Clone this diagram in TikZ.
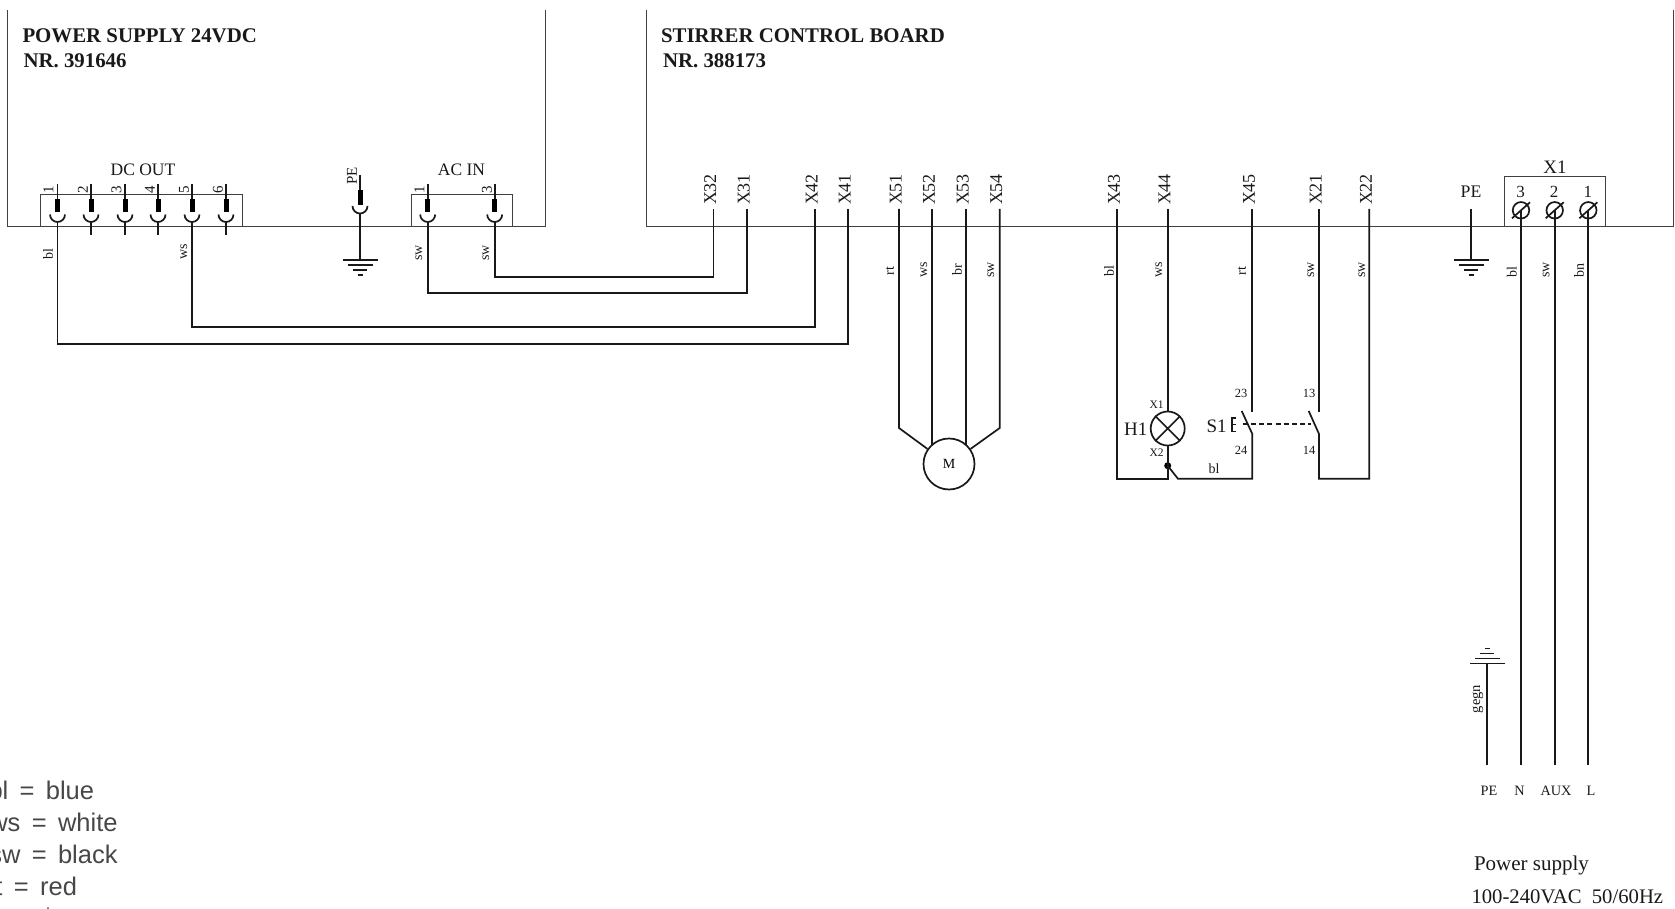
\documentclass[tikz,border=0pt]{standalone}
\usepackage{fontspec}
\setmainfont{Liberation Serif}
\newfontfamily\legendfont[WordSpace=1.6]{Liberation Sans}
\newcommand{\fs}[1]{\fontsize{#1pt}{#1pt}\selectfont}
\tikzset{
  wire/.style={line width=1.7pt,draw=black!90},
  frame/.style={line width=1pt,draw=black!75},
  txt/.style={inner sep=0pt,outer sep=0pt,text=black!90,yshift=-1pt},
  wl/.style={txt,rotate=90,font=\fs{14}},
  xl/.style={txt,rotate=90,font=\fs{18}},
  pn/.style={txt,rotate=90,font=\fs{15}},
  title/.style={txt,anchor=west,font=\fs{20.85}\bfseries},
  leg/.style={inner sep=0pt,outer sep=0pt,anchor=base west,text=black!72,font=\legendfont\fs{25.5}},
  tiny/.style={txt,font=\fs{12.5}},
  lampc/.style={circle,draw=black!90,line width=1.7pt,minimum size=34pt,inner sep=0pt},
  motorc/.style={circle,draw=black!90,line width=1.7pt,minimum size=51pt,inner sep=0pt,font=\fs{14}},
  termc/.style={circle,draw=black!90,line width=1.7pt,minimum size=16.5pt,inner sep=0pt},
}
% plug: name, x, free end y
\newcommand{\plug}[3]{%
  \coordinate (#1) at (#2,#3);
  \draw[wire] (#2,184) -- (#2,200);
  \fill[black] (#2-2.5,199) rectangle (#2+2.5,212.5);
  \draw[wire] (#2-7.5,214.5) arc[start angle=180,end angle=360,radius=7.5pt];
  \draw[wire] (#2,222) -- (#2,#3);
}
% earth: x, y, direction of the shorter bars (+1 down, -1 up)
\newcommand{\gnd}[3]{%
  \draw[wire] (#1-17.5,#2) -- (#1+17.5,#2);
  \draw[wire] (#1-12.5,#2+#3*5) -- (#1+12.5,#2+#3*5);
  \draw[wire] (#1-7,#2+#3*10) -- (#1+7,#2+#3*10);
  \draw[wire] (#1-2.5,#2+#3*15) -- (#1+2.5,#2+#3*15);
}
\begin{document}
\begin{tikzpicture}[x=1pt,y=-1pt]
\useasboundingbox (0,0) rectangle (1675,909);
\clip (0,0) rectangle (1675,909);
% frames
\draw[frame] (7,10) -- (7,226.5) -- (545,226.5) -- (545,10);
\draw[frame] (646,10) -- (646,226.5) -- (1673,226.5) -- (1673,10);
\draw[frame] (40,226.5) rectangle (242,194.5);
\draw[frame] (411,226.5) rectangle (512,194.5);
\draw[frame] (1504.3,226.5) rectangle (1605,176.5);
% titles
\node[title] (t1) at (22.5,35) {POWER SUPPLY 24VDC};
\node[title] (t2) at (23.5,60) {NR. 391646};
\node[title] (t3) at (661,35) {STIRRER CONTROL BOARD};
\node[title] (t4) at (663,60) {NR. 388173};
\node[txt,font=\fs{17.5}] (dc) at (143,169) {DC OUT};
\node[txt,font=\fs{17.5}] (ac) at (461.5,169) {AC IN};
% plugs DC OUT
\plug{p1}{57.5}{235}\plug{p2}{91}{235}\plug{p3}{125}{235}\plug{p4}{158}{235}\plug{p5}{192}{235}\plug{p6}{226}{235}
\node[pn] at (48.5,189) {1};
\node[pn] at (83,189) {2};
\node[pn] at (116.5,189) {3};
\node[pn] at (150,189) {4};
\node[pn] at (184,189) {5};
\node[pn] at (218,189) {6};
% AC plugs
\plug{a1}{427.7}{235}\plug{a3}{494.7}{235}
\node[pn] at (419.5,189) {1};
\node[pn] at (487,189) {3};
% PE plug
\draw[wire] (360,175) -- (360,191);
\fill[black] (357.5,190.5) rectangle (362.5,205);
\draw[wire] (352.5,206) arc[start angle=180,end angle=360,radius=7.5pt];
\coordinate (pe1) at (360,213.5);
\coordinate (pe1g) at (360,260);
\draw[wire] (pe1) -- (pe1g);
\gnd{360}{260}{1}
\node[pn] at (352,175) {PE};
% X-connectors
\foreach \n/\x in {32/713.6,31/747,42/815,41/848,51/899,52/932.3,53/966,54/999.7,43/1117.3,44/1167.7,45/1252.3,21/1319,22/1369.3}{
  \coordinate (X\n) at (\x,209);
  \node[xl] at (\x-3.3,188.5) {X\n};
}
% wires to power supply
\draw[wire] (p1) -- (57.5,344) -| (X41);
\draw[wire] (p5) -- (192,327) -| (X42);
\draw[wire] (a1) -- (427.7,293) -| (X31);
\draw[wire] (a3) -- (494.7,277) -| (X32);
% wire labels
\node[wl] at (48,253) {bl};
\node[wl] at (184,251) {ws};
\node[wl] at (419,252) {sw};
\node[wl] at (486,252) {sw};
\node[wl] at (890,270) {rt};
\node[wl] at (924,269) {ws};
\node[wl] at (957,269) {br};
\node[wl] at (991,269) {sw};
\node[wl] at (1109,270) {bl};
\node[wl] at (1159,269) {ws};
\node[wl] at (1242,270) {rt};
\node[wl] at (1311,269) {sw};
\node[wl] at (1362,269) {sw};
\node[wl] at (1511.7,271) {bl};
\node[wl] at (1546,269) {sw};
\node[wl] at (1579,269) {bn};
% motor
\node[motorc] (M) at (949,464) {M};
\draw[wire] (X51) -- (899,428) -- (M.145);
\draw[wire] (X52) -- (932.3,445);
\draw[wire] (X53) -- (966,445);
\draw[wire] (X54) -- (999.7,428) -- (M.35);
% lamp
\node[lampc] (H) at (1167.7,428.5) {};
\draw[wire] (H.45) -- (H.225) (H.135) -- (H.315);
\draw[wire] (X44) -- (H.north);
\coordinate (dot) at (1167.7,465.7);
\fill[black] (dot) circle[radius=3.5pt];
\draw[wire] (H.south) -- (dot) -- (1167.7,478.8) -- (1117.3,478.8) -- (X43);
\node[txt,font=\fs{19}] (h1) at (1135.7,428) {H1};
\node[txt,font=\fs{11.5}] (hx1) at (1156.7,404) {X1};
\node[txt,font=\fs{11.5}] (hx2) at (1156.7,452) {X2};
% switches
\draw[wire] (X45) -- (1252.3,411.7);
\draw[wire] (1241.7,411) -- (1252.3,434) -- (1252.3,478.8) -- (1178,478.8) -- (dot);
\draw[wire] (X21) -- (1319,411.7);
\draw[wire] (1308.7,411) -- (1319,434) -- (1319,478.8) -- (1369.3,478.8) -- (X22);
\draw[line width=1.7pt,draw=black!90,dash pattern=on 5pt off 3.2pt] (1242.7,424.3) -- (1310.7,424.3);
\draw[line width=1.5pt,draw=black!90] (1236,418) -- (1232,418) -- (1232,431.7) -- (1236,431.7) (1232,424.5) -- (1236,424.5);
\node[txt,font=\fs{19}] (s1) at (1216.7,425) {S1};
\node[tiny] at (1241,392) {23};
\node[tiny] at (1241,449) {24};
\node[tiny] at (1309,392) {13};
\node[tiny] at (1309,449) {14};
\node[txt,font=\fs{14}] at (1214,468) {bl};
% X1 terminals
\node[txt,font=\fs{19}] (x1t) at (1555,166.7) {X1};
\foreach \n/\x/\l in {c/1521/3,b/1554.7/2,a/1588.3/1}{
  \node[termc] (T\n) at (\x,210.3) {};
  \draw[wire] (\x-9,218.3) -- (\x+9,202.3);
  \node[txt,font=\fs{17}] at (\x-0.5,190.5) {\l};
}
\coordinate (eN) at (1521,765);
\coordinate (eA) at (1554.7,765);
\coordinate (eL) at (1588.3,765);
\draw[wire] (Tc.center) -- (eN);
\draw[wire] (Tb.center) -- (eA);
\draw[wire] (Ta.center) -- (eL);
% PE main
\node[txt,font=\fs{17.7}] (pem) at (1471,191) {PE};
\coordinate (g2) at (1471,209);
\coordinate (g2b) at (1471,260);
\draw[wire] (g2) -- (g2b);
\gnd{1471}{260}{1}
% earth at bottom
\coordinate (g3) at (1487.3,663.5);
\coordinate (g3b) at (1487.3,765);
\draw[wire] (g3) -- (g3b);
\gnd{1487.3}{663.5}{-1}
\node[txt,rotate=90,font=\fs{14.5}] at (1478,698) {gegn};
\node[txt,font=\fs{14.3}] at (1489,790) {PE};
\node[txt,font=\fs{14.3}] at (1519.5,790) {N};
\node[txt,font=\fs{14.3}] at (1556,790) {AUX};
\node[txt,font=\fs{14.3}] at (1591,790) {L};
\node[txt,anchor=west,font=\fs{21}] (ps1) at (1474,864) {Power supply};
\node[txt,anchor=west,font=\fs{20.7}] (ps2) at (1471.5,896) {100-240VAC\ \ 50/60Hz};
% legend
\node[leg] (l1) at (-11.5,799) {bl = blue};
\node[leg] (l2) at (-10.7,831) {ws = white};
\node[leg] (l3) at (-10.7,863) {sw = black};
\node[leg] (l4) at (-13,895) {rt = red};
\fill[black!72] (48,908) circle[radius=1pt];
\end{tikzpicture}
\end{document}
